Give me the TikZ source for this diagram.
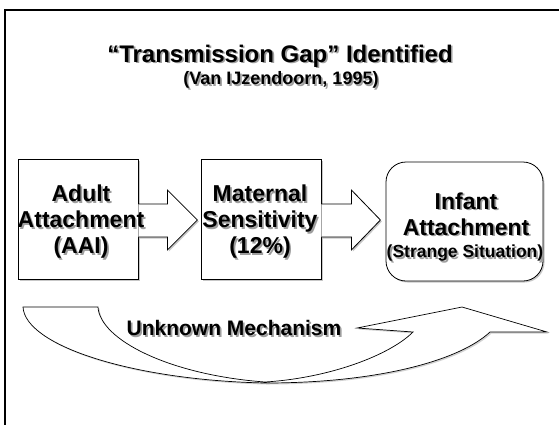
\documentclass[tikz,border=0pt]{standalone}
\usepackage{fontspec}
\setmainfont{Liberation Sans}
% one line of text with a soft grey drop shadow behind it
\newcommand\sh[1]{\leavevmode\rlap{\hspace{1.7pt}\raisebox{-1.7pt}[0pt][0pt]{\textcolor{black!38}{#1}}}#1}
\begin{document}
\begin{tikzpicture}[x=1pt,y=-1pt,
  outline/.style={draw=black, line width=0.8pt, fill=white, line join=miter},
  boxshadow/.style={fill=black!22, draw=none},
  stepbox/.style={outline, minimum width=120pt, minimum height=120pt, inner sep=0pt},
  roundbox/.style={outline, rounded corners=20pt, minimum width=157pt, minimum height=119pt, inner sep=0pt},
  lbl/.style={font=\bfseries\fontsize{23}{26}\selectfont, align=center, inner sep=0pt},
  sublbl/.style={font=\bfseries\fontsize{17.5}{20}\selectfont, inner sep=0pt},
  title/.style={font=\bfseries\fontsize{24}{28}\selectfont, inner sep=0pt},
  subtitle/.style={font=\bfseries\fontsize{18}{21}\selectfont, inner sep=0pt},
  mech/.style={font=\bfseries\fontsize{21}{24}\selectfont, inner sep=0pt}]
\useasboundingbox (0,0) rectangle (559,424);
\fill[white] (0,0) rectangle (559,424);
\clip (0,0) rectangle (559,424);

% slide frame (runs off the right and bottom edges)
\draw[line width=2pt, line join=miter] (5,440) -- (5,10) -- (580,10);

% headings
\node[title] (ttl) at (280,56) {\sh{“Transmission Gap” Identified}};
\node[subtitle] (sub) at (281,80) {\sh{(Van IJzendoorn, 1995)}};

% box shadows
\fill[boxshadow] (19.5,160.5) rectangle (139.5,280.5);
\fill[boxshadow] (202.5,160.5) rectangle (322.5,280.5);
\fill[boxshadow, rounded corners=20pt] (387.5,163.5) rectangle (544.5,282.5);

% the three stages
\node[stepbox] (adult) at (78,219) {};
\node[stepbox] (maternal) at (261,219) {};
\node[roundbox] (infant) at (464.5,221.5) {};

% block arrows between the stages
\fill[boxshadow] ([xshift=1.5pt,yshift=13.5pt]adult.east) -- ++(29,0) -- ++(0,-14) -- ++(30,30) -- ++(-30,30) -- ++(0,-13) -- ++(-29,0) -- cycle;
\draw[outline] ([yshift=15pt]adult.east) -- ++(29,0) -- ++(0,-14) -- ++(30,30) -- ++(-30,30) -- ++(0,-13) -- ++(-29,0);
\fill[boxshadow] ([xshift=1.5pt,yshift=13.5pt]maternal.east) -- ++(30,0) -- ++(0,-14) -- ++(29,30) -- ++(-29,30) -- ++(0,-13) -- ++(-30,0) -- cycle;
\draw[outline] ([yshift=15pt]maternal.east) -- ++(30,0) -- ++(0,-14) -- ++(29,30) -- ++(-29,30) -- ++(0,-13) -- ++(-30,0);

% stage labels
\node[lbl] (adulttxt) at (81,222) {\sh{Adult}\\\sh{Attachment}\\\sh{(AAI)}};
\node[lbl] (maternaltxt) at (260,222) {\sh{Maternal}\\\sh{Sensitivity}\\\sh{(12\%)}};
\node[lbl] (infanttxt) at (466,214) {\sh{Infant}\\\sh{Attachment}};
\node[sublbl] (infantsub) at (465,253) {\sh{(Strange Situation)}};

% curved arrow returning from the adult stage to the infant stage
\fill[boxshadow, opacity=0.8, shift={(1.5,1.5)}]
  (23,307) -- (98,307)
  .. controls (100,340) and (170,375) .. (265,382)
  .. controls (330,378) and (390,355) .. (413,332)
  -- (357,328) -- (462,307) -- (547,332) -- (490,332)
  .. controls (460,360) and (380,383) .. (265,383)
  .. controls (130,380) and (25,345) .. (23,307) -- cycle;
\draw[outline, line width=0.7pt]
  (23,307) -- (98,307)
  .. controls (100,340) and (170,375) .. (265,382)
  .. controls (330,378) and (390,355) .. (413,332)
  -- (357,328) -- (462,307) -- (547,332) -- (490,332)
  .. controls (460,360) and (380,383) .. (265,383)
  .. controls (130,380) and (25,345) .. (23,307) -- cycle;
\node[mech] (mechtxt) at (234,328) {\sh{Unknown Mechanism}};
\end{tikzpicture}
\end{document}
